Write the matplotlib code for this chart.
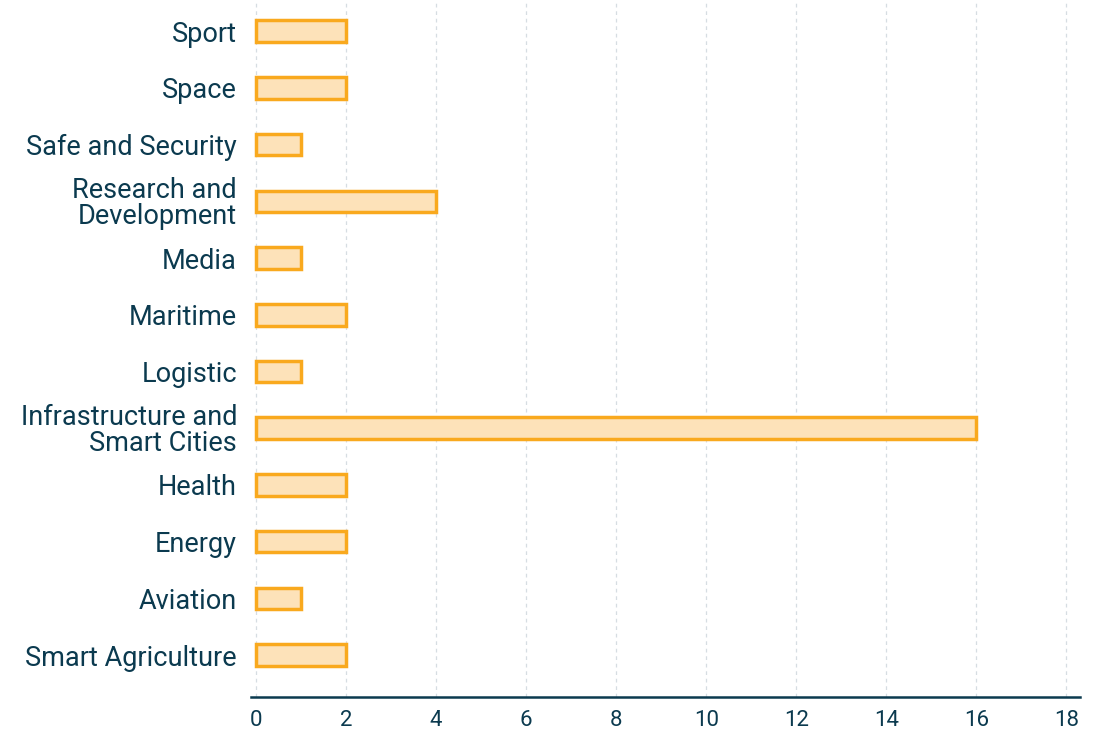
import matplotlib
matplotlib.use("Agg")
import matplotlib.pyplot as plt

categories = [
    "Smart Agriculture", "Aviation", "Energy", "Health",
    "Infrastructure and\nSmart Cities", "Logistic", "Maritime", "Media",
    "Research and\nDevelopment", "Safe and Security", "Space", "Sport",
]
counts = [2, 1, 2, 2, 16, 1, 2, 1, 4, 1, 2, 2]
xticks = [0, 2, 4, 6, 8, 10, 12, 14, 16, 18]

text_color = "#0b3a4f"
plt.rcParams["font.family"] = ["Roboto", "DejaVu Sans"]

fig = plt.figure(figsize=(10.93, 7.34), dpi=100)
ax = fig.add_axes([251 / 1093, 37 / 734, (1080 - 251) / 1093, (734 - 37) / 734])

ypos = list(range(len(categories)))
ax.barh(ypos, counts, height=0.38, color="#fde2b9", edgecolor="#f9a91e",
        linewidth=2.5, zorder=3)

ax.set_xlim(-0.11, 18.3)
ax.set_ylim(-0.74, 11.55)
ax.set_xticks(xticks)
ax.set_xticklabels([str(t) for t in xticks])
ax.set_yticks(ypos)
ax.set_yticklabels(categories, linespacing=0.95)

ax.tick_params(axis="x", length=0, labelsize=16, colors=text_color, pad=9)
ax.tick_params(axis="y", length=0, labelsize=19.5, colors=text_color, pad=10)
for lbl in ax.get_yticklabels():
    lbl.set_horizontalalignment("right")

ax.grid(axis="x", color="#d6dde2", linestyle=(0, (3, 3)), linewidth=0.9, zorder=0)
ax.grid(axis="y", visible=False)

for side in ["top", "right", "left"]:
    ax.spines[side].set_visible(False)
ax.spines["bottom"].set_color(text_color)
ax.spines["bottom"].set_linewidth(1.8)

fig.savefig("out.png", dpi=100)
